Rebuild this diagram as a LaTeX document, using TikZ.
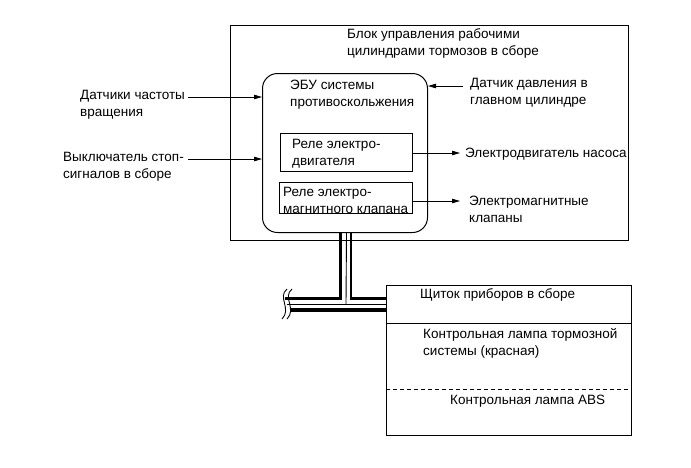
\documentclass[tikz,border=0pt]{standalone}
\usepackage{fontspec}
\setmainfont{Liberation Sans}
\usetikzlibrary{arrows.meta}
\newcommand\twol[1]{\begin{tabular}[t]{@{}l@{}}#1\end{tabular}}
\begin{document}
\begin{tikzpicture}[x=1pt,y=-1pt,
  txt/.style={anchor=base west, inner sep=0pt, font=\fontsize{13.5}{17}\selectfont},
  box/.style={draw, anchor=north west, inner sep=0pt},
  arr/.style={-{Triangle[length=8pt,width=4.5pt]}, line width=0.8pt},
  cab/.style={line width=3.6pt},
  thinl/.style={line width=0.9pt}]
\useasboundingbox (0,0) rectangle (691,467);
% boxes
\node[box, line width=1.3pt, minimum width=398pt, minimum height=215pt] (outer) at (230,25) {};
\node[box, line width=1pt, rounded corners=15pt, minimum width=165pt, minimum height=159pt, fill=white] (ecu) at (262,73) {};
\node[box, line width=1pt, minimum width=132pt, minimum height=38pt] (r1) at (280,133) {};
\node[box, line width=1pt, minimum width=133pt, minimum height=31pt] (r2) at (279,182) {};
\node[box, line width=1pt, minimum width=245pt, minimum height=150pt] (panel) at (386,285) {};
% texts
\node[txt] (blk) at (347,38) {\twol{Блок управления рабочими\\цилиндрами тормозов в сборе}};
\node[txt] (ecut) at (290,89) {\twol{ЭБУ системы\\противоскольжения}};
\node[txt] (pres) at (470,87) {\twol{Датчик давления в\\главном цилиндре}};
\node[txt] (r1t) at (292,148) {\twol{Реле электро-\\двигателя}};
\node[txt] (r2t) at (283,196) {\twol{Реле электро-\\магнитного клапана}};
\node[txt] (mot) at (465,157) {Электродвигатель насоса};
\node[txt] (val) at (469,205) {\twol{Электромагнитные\\клапаны}};
\node[txt] (spd) at (80,99) {\twol{Датчики частоты\\вращения}};
\node[txt] (stp) at (63,161) {\twol{Выключатель стоп-\\сигналов в сборе}};
\node[txt] (pan) at (420,298) {Щиток приборов в сборе};
\node[txt] (lmp) at (423,338) {\twol{Контрольная лампа тормозной\\системы (красная)}};
\node[txt] (abs) at (450,404) {Контрольная лампа ABS};
% arrows
\coordinate (s1) at (188,97);
\coordinate (s2) at (188,159);
\coordinate (p1) at (463,86);
\coordinate (m1) at (460,153);
\coordinate (v1) at (460,201);
\draw[arr] (s1) -- (ecu.west |- s1);
\draw[arr] (s2) -- (ecu.west |- s2);
\draw[arr] (p1) -- (ecu.east |- p1);
\draw[arr] (r1.east |- m1) -- (m1);
\draw[arr] (r2.east |- v1) -- (v1);
% cable
\coordinate (cL) at (285,298.5);
\coordinate (cR) at (386,298.5);
\coordinate (mL) at (287,304);
\coordinate (mR) at (386,304);
\coordinate (bL) at (290,310);
\coordinate (bR) at (386,310);
\coordinate (mT) at (346,304);
\draw[cab] ([xshift=-4.5pt]ecu.south) |- (cL);
\draw[line width=2.8pt] ([xshift=6pt]ecu.south) |- (cR);
\draw[thinl] ([xshift=1.5pt]ecu.south) -- (mT);
\draw[thinl] (mL) -- (mR);
\draw[cab] (bL) -- (bR);
\draw[thinl] (287,289) .. controls (277,297) and (292,309) .. (282,319);
\draw[thinl] (292,289) .. controls (282,297) and (297,309) .. (287,319);
% panel dividers
\coordinate (d1) at (386,323);
\coordinate (d2) at (386,389);
\draw[line width=0.9pt] (d1) -- (d1 -| panel.east);
\draw[line width=0.9pt, dash pattern=on 4pt off 3pt] (d2) -- (d2 -| panel.east);
\end{tikzpicture}
\end{document}
